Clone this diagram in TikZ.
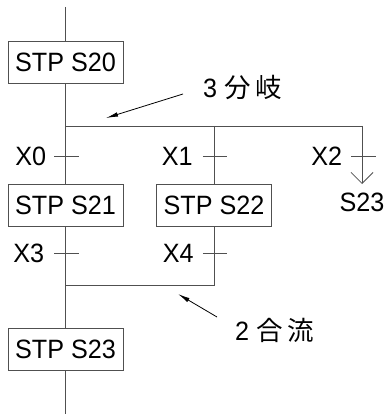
\documentclass[tikz,border=0pt]{standalone}
\usepackage{fontspec}
\setmainfont{Liberation Sans}[FakeStretch=0.95]
\newfontfamily\jafont{Noto Sans CJK JP}
\definecolor{lineGray}{RGB}{80, 80, 80}
\usetikzlibrary{positioning, arrows.meta}

\begin{document}
\begin{tikzpicture}[x=1pt, y=-1pt, node distance=9pt, >={Latex[length=12pt, width=4.5pt]},
    every node/.style={font=\fontsize{26.5}{30}\selectfont},
    wire/.style={draw=lineGray, line width=0.8pt},
    stpbox/.style={draw=lineGray, line width=0.8pt, rectangle, minimum width=115pt, minimum height=42pt, inner sep=0pt},
    tick/.style={rectangle, minimum width=24pt, minimum height=0pt, inner sep=0pt},
    cond/.style={inner sep=0pt}]
    \useasboundingbox (0,0) rectangle (390,414);

    \node [stpbox] (s20) at (65.5,62) {STP S20};
    \node [stpbox] (s21) at (65.5,205) {STP S21};
    \node [stpbox] (s22) at (214,205) {STP S22};
    \node [stpbox] (s23) at (65.5,349) {STP S23};
    \node [cond, anchor=north] (s23jump) at (362,193) {S23};

    \coordinate (top) at (65.5,7);
    \coordinate (bottom) at (65.5,414);
    \coordinate (fork) at (65.5,126);
    \coordinate (fork1) at (214,126);
    \coordinate (fork2) at (362,126);
    \coordinate (join) at (65.5,285);
    \coordinate (join1) at (214,285);

    \node [tick] (t0) at (66.5,156) {};
    \node [tick] (t1) at (215,156) {};
    \node [tick] (t2) at (363.5,156) {};
    \node [tick] (t3) at (66.5,253) {};
    \node [tick] (t4) at (215,253) {};
    \node [cond, left=8pt of t0] {X0};
    \node [cond, left=10pt of t1] {X1};
    \node [cond, left=9pt of t2] {X2};
    \node [cond, left=10pt of t3] {X3};
    \node [cond, left=9pt of t4] {X4};

    \draw [wire] (top) -- (s20);
    \draw [wire] (s20) -- (s21);
    \draw [wire] (fork) -- (fork2);
    \draw [wire] (fork1) -- (s22);
    \draw [wire, -{Straight Barb[length=11pt, width=22pt]}, shorten >=9pt] (fork2) -- (s23jump);
    \draw [wire] (s21) -- (s23);
    \draw [wire] (s22) -- (join1) -- (join);
    \draw [wire] (s23) -- (bottom);
    \foreach \t in {t0,t1,t2,t3,t4}
        \draw [wire] (\t.west) -- (\t.east);

    \node [cond, anchor=west] (fenqi) at (203,87) {3 {\jafont 分\,岐}};
    \node [cond, anchor=west] (heliu) at (235,330) {2 {\jafont 合\,流}};
    \coordinate (fenqitail) at (183,94);
    \coordinate (forkmark) at (106,118);
    \coordinate (heliutail) at (217,317);
    \coordinate (joinmark) at (178,294);
    \draw [->, line width=0.8pt] (fenqitail) -- (forkmark);
    \draw [->, line width=0.8pt] (heliutail) -- (joinmark);
\end{tikzpicture}
\end{document}
